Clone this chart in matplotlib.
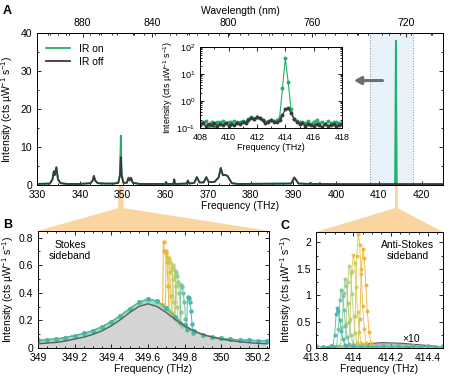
import numpy as np
import matplotlib
matplotlib.use('Agg')
import matplotlib.pyplot as plt
from matplotlib.patches import Polygon
from matplotlib.ticker import MultipleLocator, FixedLocator, FuncFormatter

plt.rcParams['font.family'] = ['Liberation Sans', 'DejaVu Sans']
plt.rcParams['mathtext.fontset'] = 'custom'
plt.rcParams['mathtext.rm'] = 'Liberation Sans'
plt.rcParams['mathtext.it'] = 'Liberation Sans:italic'
plt.rcParams['mathtext.default'] = 'regular'
plt.rcParams['axes.linewidth'] = 0.7
plt.rcParams['font.size'] = 7.5

# ---- panel A : full spectrum (IR off / IR on) ----
a_freq = [330.0, 333.0, 333.6, 333.9, 334.1, 334.5, 334.9, 335.5, 337.0, 340.0,
          342.5, 343.0, 343.3, 343.6, 344.2, 346.0, 348.0, 349.0, 349.4, 349.6,
          349.8, 350.2, 351.0, 351.4, 351.7, 352.0, 352.4, 354.0, 358.0, 360.0,
          360.2, 360.4, 361.9, 362.1, 362.3, 365.0, 365.3, 365.6, 366.8, 367.4,
          368.0, 369.0, 369.6, 370.2, 371.5, 372.5, 373.0, 373.5, 374.0, 374.6,
          375.0, 375.6, 377.0, 389.5, 390.2, 390.6, 391.2, 393.8, 394.0, 394.2,
          396.0, 396.2, 396.4, 400.0, 413.8, 414.0, 414.2, 425.0]
a_off = [0.3, 0.4, 1.5, 3.6, 2.6, 4.7, 1.5, 0.5, 0.3, 0.3,
         0.5, 1.2, 2.4, 1.2, 0.5, 0.4, 0.4, 0.6, 2.5, 7.3,
         2.5, 0.6, 0.6, 1.9, 1.2, 1.9, 0.6, 0.3, 0.3, 0.3,
         0.8, 0.3, 0.3, 1.5, 0.3, 0.4, 1.2, 0.4, 0.6, 2.1,
         0.7, 0.7, 2.1, 0.8, 0.8, 2.0, 4.5, 2.6, 2.7, 2.4,
         1.6, 0.5, 0.3, 0.4, 2.0, 1.4, 0.4, 0.3, 0.6, 0.3,
         0.3, 0.5, 0.3, 0.25, 0.25, 0.4, 0.25, 0.25]
a_on = [0.3, 0.4, 1.5, 3.6, 2.6, 4.7, 1.5, 0.5, 0.3, 0.3,
        0.5, 1.2, 2.4, 1.2, 0.5, 0.4, 0.4, 0.6, 2.8, 13.0,
        2.8, 0.6, 0.6, 1.9, 1.2, 1.9, 0.6, 0.3, 0.3, 0.3,
        0.8, 0.3, 0.3, 1.5, 0.3, 0.4, 1.2, 0.4, 0.6, 2.1,
        0.7, 0.7, 2.1, 0.8, 0.8, 2.0, 4.5, 2.6, 2.7, 2.4,
        1.6, 0.5, 0.3, 0.4, 2.0, 1.4, 0.4, 0.3, 0.6, 0.3,
        0.3, 0.5, 0.3, 0.25, 0.25, 38.0, 0.25, 0.25]
wl_ticks = [880, 840, 800, 760, 720]

# ---- inset : 408-418 THz, log scale ----
in_freq = np.round(np.arange(408.0, 418.01, 0.2), 1)
in_off = [0.13, 0.15, 0.12, 0.14, 0.13, 0.15, 0.12, 0.14, 0.13, 0.15,
          0.12, 0.14, 0.13, 0.15, 0.14, 0.16, 0.15, 0.20, 0.24, 0.22,
          0.25, 0.23, 0.19, 0.15, 0.17, 0.20, 0.17, 0.16, 0.19, 0.30,
          0.50, 0.55, 0.35, 0.22, 0.17, 0.14, 0.15, 0.12, 0.14, 0.13,
          0.12, 0.14, 0.13, 0.11, 0.14, 0.12, 0.13, 0.14, 0.12, 0.13,
          0.14]
in_on = [0.17, 0.16, 0.18, 0.12, 0.17, 0.11, 0.17, 0.16, 0.18, 0.15,
         0.17, 0.16, 0.18, 0.16, 0.17, 0.18, 0.17, 0.21, 0.25, 0.22,
         0.26, 0.23, 0.20, 0.17, 0.18, 0.20, 0.18, 0.19, 0.25, 3.0,
         38.0, 5.0, 0.50, 0.22, 0.18, 0.16, 0.17, 0.15, 0.18, 0.14,
         0.17, 0.20, 0.15, 0.16, 0.14, 0.18, 0.15, 0.16, 0.17, 0.15,
         0.16]

# ---- panel B : Stokes sideband ----
b_freq = np.round(np.arange(349.0, 350.251, 0.05), 2)
b_fit = [0.030, 0.035, 0.040, 0.050, 0.064, 0.078, 0.098, 0.124, 0.160, 0.205,
         0.256, 0.300, 0.320, 0.300, 0.256, 0.205, 0.160, 0.124, 0.098, 0.078,
         0.064, 0.053, 0.045, 0.038, 0.033, 0.030]
b_bg = [0.055, 0.060, 0.065, 0.075, 0.090, 0.105, 0.125, 0.155, 0.190, 0.235,
        0.285, 0.330, 0.355, 0.340, 0.290, 0.225, 0.165, 0.120, 0.095, 0.080,
        0.070, 0.063, 0.058, 0.055, 0.053, 0.052]
b_peaks_x = [
    [349.680, 349.685, 349.690, 349.697, 349.704, 349.710, 349.716],
    [349.695, 349.700, 349.706, 349.712, 349.719, 349.725, 349.731],
    [349.712, 349.717, 349.723, 349.729, 349.736, 349.742, 349.748],
    [349.730, 349.735, 349.741, 349.747, 349.754, 349.760, 349.766],
    [349.748, 349.753, 349.759, 349.765, 349.772, 349.778, 349.784],
    [349.775, 349.780, 349.786, 349.792, 349.799, 349.805, 349.811],
    [349.811, 349.816, 349.822, 349.828, 349.835, 349.841, 349.847],
]
b_peaks_y = [
    [0.31, 0.77, 0.70, 0.69, 0.62, 0.45, 0.27],
    [0.29, 0.70, 0.66, 0.63, 0.55, 0.38, 0.24],
    [0.27, 0.65, 0.62, 0.58, 0.50, 0.33, 0.21],
    [0.25, 0.60, 0.57, 0.53, 0.45, 0.30, 0.19],
    [0.22, 0.55, 0.52, 0.48, 0.40, 0.26, 0.16],
    [0.18, 0.46, 0.44, 0.40, 0.33, 0.21, 0.13],
    [0.14, 0.37, 0.36, 0.33, 0.27, 0.17, 0.11],
]

# ---- panel C : anti-Stokes sideband ----
c_base_freq = np.round(np.arange(413.80, 414.481, 0.04), 2)
c_base = [0.03, 0.02, 0.03, 0.02, 0.04, 0.03, 0.02, 0.03, 0.02,
          0.03, 0.02, 0.03, 0.02, 0.03, 0.02, 0.03, 0.02, 0.03]
c_peaks_x = [
    [414.025, 414.035, 414.043, 414.052, 414.059, 414.067, 414.075, 414.084, 414.094],
    [414.000, 414.010, 414.018, 414.027, 414.034, 414.042, 414.050, 414.059, 414.069],
    [413.973, 413.983, 413.991, 414.000, 414.007, 414.015, 414.023, 414.032, 414.042],
    [413.952, 413.962, 413.970, 413.978, 413.985, 413.993, 414.001, 414.010, 414.020],
    [413.930, 413.940, 413.948, 413.956, 413.963, 413.971, 413.979, 413.988, 413.998],
    [413.910, 413.920, 413.928, 413.935, 413.942, 413.950, 413.958, 413.967, 413.977],
    [413.890, 413.900, 413.908, 413.914, 413.920, 413.928, 413.936, 413.945, 413.955],
]
c_peaks_y = [
    [0.05, 0.55, 1.50, 1.88, 1.70, 1.20, 0.70, 0.30, 0.09],
    [0.05, 0.60, 1.75, 2.17, 1.95, 1.40, 0.80, 0.35, 0.10],
    [0.05, 0.55, 1.45, 1.77, 1.62, 1.15, 0.68, 0.30, 0.10],
    [0.04, 0.45, 1.25, 1.55, 1.42, 1.02, 0.60, 0.28, 0.09],
    [0.04, 0.40, 1.05, 1.30, 1.18, 0.85, 0.50, 0.24, 0.08],
    [0.04, 0.35, 0.90, 1.10, 0.98, 0.72, 0.42, 0.20, 0.07],
    [0.03, 0.25, 0.65, 0.76, 0.70, 0.52, 0.32, 0.16, 0.06],
]
c_x10_freq = [413.85, 413.95, 414.05, 414.15, 414.25, 414.35, 414.45, 414.48]
c_x10 = [0.0, 0.03, 0.07, 0.10, 0.09, 0.06, 0.03, 0.02]

trace_colors = ['#f0b030', '#e4be3c', '#d2c858', '#b9cf6f', '#97cc88', '#6fc3a0', '#45b5b0']
green = '#23b06a'
dark = '#3a3a3a'
orange = '#fbd5a0'
ylab = 'Intensity (cts µW$^{-1}$ s$^{-1}$)'
fmt_g = FuncFormatter(lambda v, p: f'{v:g}')


def style(ax, size=7.5):
    ax.tick_params(which='both', direction='in', top=True, right=True, labelsize=size, width=0.6)
    ax.tick_params(which='major', length=3)
    ax.tick_params(which='minor', length=1.6)


def assemble(bx, by, px, py):
    xs = [x for x in bx if x < px[0]] + list(px) + [x for x in bx if x > px[-1]]
    ys = ([y for x, y in zip(bx, by) if x < px[0]] + list(py)
          + [y for x, y in zip(bx, by) if x > px[-1]])
    return xs, ys


fig = plt.figure(figsize=(4.58, 3.84), dpi=100)
ax_a = fig.add_axes([0.081, 0.518, 0.886, 0.396])
ax_in = fig.add_axes([0.437, 0.667, 0.310, 0.211])
ax_b = fig.add_axes([0.083, 0.094, 0.504, 0.305])
ax_c = fig.add_axes([0.690, 0.094, 0.277, 0.302])

# panel A
ax_a.axvspan(408, 418, color='#e8f2fb', lw=0, zorder=0)
ax_a.axvline(408, color='#8a8a8a', ls=':', lw=0.7)
ax_a.axvline(418, color='#8a8a8a', ls=':', lw=0.7)
ax_a.plot(a_freq, a_on, color=green, lw=1.3, label='IR on')
ax_a.plot(a_freq, a_off, color=dark, lw=1.3, label='IR off')
ax_a.set_xlim(330, 425)
ax_a.set_ylim(0, 40)
ax_a.xaxis.set_major_locator(MultipleLocator(10))
ax_a.xaxis.set_minor_locator(MultipleLocator(2.5))
ax_a.yaxis.set_major_locator(MultipleLocator(10))
ax_a.yaxis.set_minor_locator(MultipleLocator(5))
style(ax_a)
ax_a.tick_params(top=False)
ax_a.set_xlabel('Frequency (THz)', labelpad=1)
ax_a.set_ylabel(ylab, labelpad=4)
ax_a.legend(loc='upper left', bbox_to_anchor=(0.0, 0.99), frameon=False,
            handlelength=2.3, labelspacing=0.25, fontsize=7.5)
ax_a.annotate('', xy=(403.5, 27.5), xytext=(411.5, 27.5),
              arrowprops=dict(arrowstyle='-|>,head_width=0.3,head_length=0.55',
                              lw=2.2, color='#6e6e6e'))


def thz2nm(x):
    x = np.asarray(x, dtype=float)
    with np.errstate(divide='ignore'):
        return 299792.458 / x


top = ax_a.secondary_xaxis('top', functions=(thz2nm, thz2nm))
top.xaxis.set_major_locator(FixedLocator(wl_ticks))
top.xaxis.set_minor_locator(FixedLocator(list(range(710, 910, 10))))
top.tick_params(which='both', direction='in', labelsize=7.5, width=0.6)
top.tick_params(which='major', length=3)
top.tick_params(which='minor', length=1.6)
top.set_xlabel('Wavelength (nm)', labelpad=3)

# inset
ax_in.plot(in_freq, in_on, color=green, lw=0.8, marker='o', ms=1.8)
ax_in.plot(in_freq, in_off, color=dark, lw=0.9, marker='o', ms=1.8)
ax_in.set_yscale('log')
ax_in.set_ylim(0.1, 100)
ax_in.set_xlim(408, 418)
ax_in.xaxis.set_major_locator(MultipleLocator(2))
ax_in.xaxis.set_minor_locator(MultipleLocator(1))
style(ax_in, 6.5)
ax_in.set_xlabel('Frequency (THz)', fontsize=6.5, labelpad=1)
ax_in.set_ylabel(ylab, fontsize=6.5, labelpad=1)

# panel B
ax_b.fill_between(b_freq, b_fit, color='#d4d4d4', lw=0, zorder=1)
ax_b.fill_between(b_freq, b_fit, b_bg, color='#6cc3a8', alpha=0.65, lw=0, zorder=1.5)
for col, px, py in zip(trace_colors, b_peaks_x, b_peaks_y):
    xs, ys = assemble(b_freq, b_bg, px, py)
    ax_b.plot(xs, ys, color=col, lw=0.8, marker='o', ms=2.3, alpha=0.85, zorder=2)
ax_b.plot(b_freq, b_fit, color='#596068', lw=1.0, zorder=3)
ax_b.set_xlim(349, 350.26)
ax_b.set_ylim(0, 0.85)
ax_b.xaxis.set_major_locator(MultipleLocator(0.2))
ax_b.xaxis.set_minor_locator(MultipleLocator(0.05))
ax_b.yaxis.set_major_locator(MultipleLocator(0.2))
ax_b.yaxis.set_minor_locator(MultipleLocator(0.1))
ax_b.xaxis.set_major_formatter(fmt_g)
ax_b.yaxis.set_major_formatter(fmt_g)
style(ax_b)
ax_b.set_xlabel('Frequency (THz)', labelpad=1)
ax_b.set_ylabel(ylab, labelpad=2)
ax_b.text(0.14, 0.83, 'Stokes\nsideband', transform=ax_b.transAxes,
          ha='center', va='center', fontsize=7.5, linespacing=1.2)

# panel C
ax_c.fill_between(c_x10_freq, c_x10, color='#b5b5b5', lw=0, zorder=1)
ax_c.plot(c_x10_freq, c_x10, color='#555555', lw=0.8, zorder=1)
for col, px, py in zip(trace_colors, c_peaks_x, c_peaks_y):
    xs, ys = assemble(c_base_freq, c_base, px, py)
    ax_c.plot(xs, ys, color=col, lw=0.7, marker='o', ms=1.9, alpha=0.85, zorder=2)
ax_c.set_xlim(413.8, 414.48)
ax_c.set_ylim(0, 2.2)
ax_c.xaxis.set_major_locator(MultipleLocator(0.2))
ax_c.xaxis.set_minor_locator(MultipleLocator(0.05))
ax_c.yaxis.set_major_locator(MultipleLocator(0.5))
ax_c.yaxis.set_minor_locator(MultipleLocator(0.25))
ax_c.xaxis.set_major_formatter(fmt_g)
ax_c.yaxis.set_major_formatter(fmt_g)
style(ax_c)
ax_c.set_xlabel('Frequency (THz)', labelpad=1)
ax_c.set_ylabel(ylab, labelpad=2)
ax_c.text(0.72, 0.84, 'Anti-Stokes\nsideband', transform=ax_c.transAxes,
          ha='center', va='center', fontsize=7.5, linespacing=1.2)
ax_c.text(414.31, 0.17, '×10', ha='center', va='center', fontsize=7.5)

# zoom wedges from panel A down to B and C
inv = fig.transFigure.inverted()
bar_bottom = 0.458
for sub in (ax_b, ax_c):
    x0, x1 = sub.get_xlim()
    (ul, uy), (ur, _) = inv.transform(ax_a.transData.transform([(x0, 0), (x1, 0)]))
    (bl, by), (br, _) = inv.transform(sub.transAxes.transform([(0, 1), (1, 1)]))
    poly = [(ul, uy), (ur, uy), (ur, bar_bottom), (br, by), (bl, by), (ul, bar_bottom)]
    fig.patches.append(Polygon(poly, closed=True, transform=fig.transFigure,
                               fc=orange, ec='none', zorder=-1))

fig.text(0.006, 0.972, 'A', fontsize=9, weight='bold', va='center')
fig.text(0.006, 0.414, 'B', fontsize=9, weight='bold', va='center')
fig.text(0.612, 0.411, 'C', fontsize=9, weight='bold', va='center')

fig.savefig('out.png', dpi=100)
